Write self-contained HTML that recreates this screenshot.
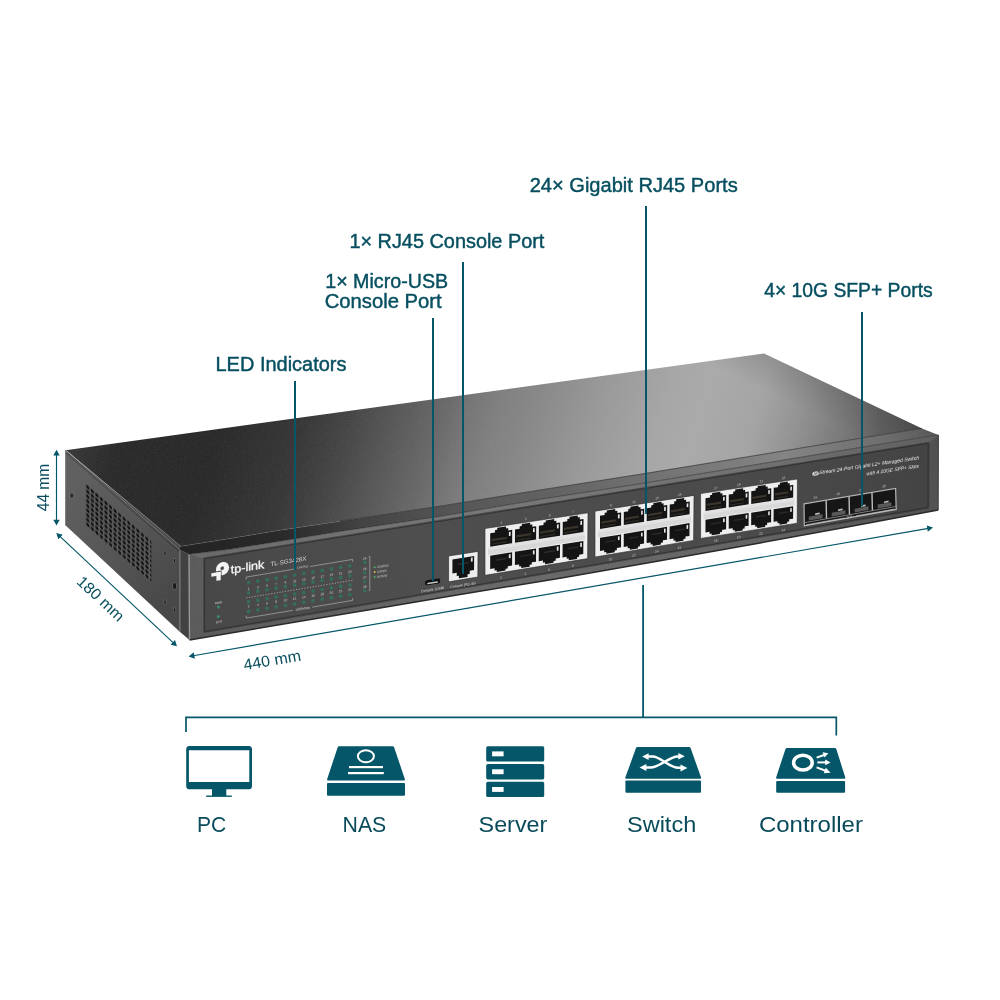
<!DOCTYPE html>
<html lang="en"><head><meta charset="utf-8"><title>TL-SG3428X ports</title>
<style>
html,body{margin:0;padding:0;background:#fff;}
body{width:1000px;height:1000px;overflow:hidden;font-family:"Liberation Sans",sans-serif;}
svg{display:block;will-change:transform;}
text{font-family:"Liberation Sans",sans-serif;}
.lb{fill:#074f60;font-size:19.4px;stroke:#074f60;stroke-width:.42px;}
.dm{fill:#0a4f5f;font-size:15.6px;}
.ic{fill:#0a4b5b;font-size:22px;}
</style></head><body>
<svg width="1000" height="1000" viewBox="0 0 1000 1000">
<defs>
<linearGradient id="gTop" gradientUnits="userSpaceOnUse" x1="66" y1="430" x2="900" y2="680"><stop offset="0.013" stop-color="#363636"/><stop offset="0.062" stop-color="#292929"/><stop offset="0.167" stop-color="#282828"/><stop offset="0.260" stop-color="#363636"/><stop offset="0.313" stop-color="#464646"/><stop offset="0.355" stop-color="#565656"/><stop offset="0.408" stop-color="#686868"/><stop offset="0.439" stop-color="#767676"/><stop offset="0.471" stop-color="#808080"/><stop offset="0.502" stop-color="#868686"/><stop offset="0.576" stop-color="#989898"/><stop offset="0.650" stop-color="#a6a6a6"/><stop offset="0.692" stop-color="#aaaaaa"/><stop offset="0.754" stop-color="#a4a4a4"/><stop offset="0.801" stop-color="#929292"/><stop offset="0.859" stop-color="#767676"/><stop offset="0.894" stop-color="#626262"/><stop offset="0.940" stop-color="#505050"/><stop offset="0.961" stop-color="#484848"/></linearGradient>
<linearGradient id="gTopShade" gradientUnits="userSpaceOnUse" x1="810" y1="450" x2="858" y2="350">
<stop offset="0" stop-color="#000" stop-opacity="0"/><stop offset=".3" stop-color="#000" stop-opacity="0"/><stop offset="1" stop-color="#000" stop-opacity=".28"/>
</linearGradient>
<linearGradient id="gLip" gradientUnits="userSpaceOnUse" x1="185" y1="550" x2="937" y2="435">
<stop offset="0" stop-color="#232323"/><stop offset=".13" stop-color="#2a2a2a"/><stop offset=".24" stop-color="#444"/><stop offset=".36" stop-color="#565656"/><stop offset=".5" stop-color="#646464"/><stop offset=".6" stop-color="#707070"/><stop offset=".8" stop-color="#848484"/><stop offset=".93" stop-color="#6e6e6e"/><stop offset="1" stop-color="#585858"/>
</linearGradient>
<linearGradient id="gSide" gradientUnits="userSpaceOnUse" x1="66" y1="490" x2="180" y2="590">
<stop offset="0" stop-color="#606060"/><stop offset=".45" stop-color="#575757"/><stop offset="1" stop-color="#484848"/>
</linearGradient>
<linearGradient id="gFront" gradientUnits="userSpaceOnUse" x1="188" y1="600" x2="937" y2="470">
<stop offset="0" stop-color="#585858"/><stop offset=".4" stop-color="#686868"/><stop offset=".75" stop-color="#626262"/><stop offset="1" stop-color="#4e4e4e"/>
</linearGradient>
<linearGradient id="gInset" gradientUnits="userSpaceOnUse" x1="205" y1="600" x2="928" y2="470">
<stop offset="0" stop-color="#484848"/><stop offset=".3" stop-color="#4e4e4e"/><stop offset=".7" stop-color="#4b4b4b"/><stop offset="1" stop-color="#444"/>
</linearGradient>
<linearGradient id="gFrame" x1="0" y1="0" x2="0" y2="1">
<stop offset="0" stop-color="#f4f4f4"/><stop offset=".42" stop-color="#e4e4e4"/><stop offset=".5" stop-color="#c4c4c4"/><stop offset=".58" stop-color="#ececec"/><stop offset="1" stop-color="#f6f6f6"/>
</linearGradient>
<pattern id="vent" patternUnits="userSpaceOnUse" width="4.55" height="4.7" patternTransform="matrix(1 .87 0 1 85.5 483)">
<rect width="4.55" height="4.7" fill="#585858"/><rect x=".8" y=".8" width="3" height="3.1" rx="1" fill="#141414"/>
</pattern>
<filter id="grain" x="0" y="0" width="100%" height="100%"><feTurbulence type="fractalNoise" baseFrequency="1.1" numOctaves="2" seed="3" result="n"/><feColorMatrix in="n" type="matrix" values="0 0 0 0 0.5  0 0 0 0 0.5  0 0 0 0 0.5  .9 .9 .9 0 -1.05"/><feComposite operator="in" in2="SourceGraphic"/></filter>
</defs>
<rect width="1000" height="1000" fill="#fff"/>

<g id="device">
<polygon points="65.7,450.2 179.5,549.5 179.5,631.5 65.7,525.5" fill="url(#gSide)" />
<polygon points="65.7,450.2 179.5,549.5 179.5,554 65.7,454.4" fill="#000" opacity=".13"/>
<polyline points="65.7,454.4 179.5,554" fill="none" stroke="#777" stroke-width="0.6" opacity=".6"/>
<polygon points="179.5,549.5 189,554.2 189.5,640 179.5,631.5" fill="#424242" />
<polygon points="179.5,549.5 180.7,550.5 180.7,632.5 179.5,631.5" fill="#6a6a6a" />
<polygon points="65.7,450.2 181,546.3 189,554.2 179.5,549.5" fill="#4e4e4e" />
<polygon points="65.7,450.2 764,353.5 922,428.4 880,435 760,454.8 640,474.3 540,490 440,506.2 340,521.2 280,530.2 230,538.5 181,546.3" fill="url(#gTop)" />
<polygon points="65.7,450.2 764,353.5 922,428.4 880,435 760,454.8 640,474.3 540,490 440,506.2 340,521.2 280,530.2 230,538.5 181,546.3" fill="url(#gTopShade)" />
<polygon points="65.7,450.2 764,353.5 922,428.4 880,435 760,454.8 640,474.3 540,490 440,506.2 340,521.2 280,530.2 230,538.5 181,546.3" fill="#fff" filter="url(#grain)" opacity=".09"/>
<polygon points="181,546.3 230,538.5 280,530.2 340,521.2 440,506.2 540,490 640,474.3 760,454.8 880,435 922,428.4 938.4,435 880,444.3 760,464 640,483.8 540,499.4 440,516.4 340,531.4 280,541.2 230,549.3 189,554.2 179.5,549.5" fill="url(#gLip)" />
<polyline points="181,546.3 230,538.5 280,530.2 340,521.2" fill="none" stroke="#666" stroke-width="0.8" opacity=".5"/>
<polyline points="340,521.2 440,506.2 540,490 640,474.3 760,454.8 880,435 922,428.4" fill="none" stroke="#303030" stroke-width="1" opacity=".75"/>
<linearGradient id="gEdge" gradientUnits="userSpaceOnUse" x1="66" y1="450" x2="183" y2="545"><stop offset="0" stop-color="#b8b8b8"/><stop offset=".5" stop-color="#8a8a8a"/><stop offset="1" stop-color="#5c5c5c"/></linearGradient>
<polyline points="65.7,450.2 181,546.3" fill="none" stroke="url(#gEdge)" stroke-width="0.9" />
<polyline points="65.7,450.2 65.7,525.5" fill="none" stroke="#6e6e6e" stroke-width="1" />
<polygon points="189,554.2 230,549.3 280,541.2 340,531.4 440,516.4 540,499.4 640,483.8 760,464 880,444.3 938.4,435 938.2,510 850,526.51 760,542.94 660,560.81 560,578.17 460,594.53 380,607.92 300,621.31 189.5,640" fill="url(#gFront)" />
<polygon points="189,554.2 230,549.3 280,541.2 340,531.4 440,516.4 540,499.4 640,483.8 760,464 880,444.3 938.4,435 938.2,510 850,526.51 760,542.94 660,560.81 560,578.17 460,594.53 380,607.92 300,621.31 189.5,640" fill="#fff" filter="url(#grain)" opacity=".10"/>
<polyline points="189,554.2 189.5,640" fill="none" stroke="#9a9a9a" stroke-width="1.3" />
<polyline points="189,554.2 230,549.3 280,541.2 340,531.4 440,516.4 540,499.4 640,483.8 760,464 880,444.3 938.4,435" fill="none" stroke="#2a2a2a" stroke-width="1" opacity=".7"/>
<polyline points="189.5,640 300,621.31 380,607.92 460,594.53 560,578.17 660,560.81 760,542.94 850,526.51 938.2,510" fill="none" stroke="#2a2a2a" stroke-width="1.5" />
<polygon points="189,554.2 230,549.3 280,541.2 340,531.4 440,516.4 540,499.4 640,483.8 760,464 880,444.3 938.4,435 928.2,443.4 204.6,558.8" fill="#fff" opacity=".09"/>
<polyline points="938.4,435 938.2,510" fill="none" stroke="#3a3a3a" stroke-width="1" />
<polygon points="204.6,558.8 928.2,443.4 928,507.4 204.6,631.6" fill="url(#gInset)" stroke="url(#gInset)" stroke-width="3" stroke-linejoin="round"/>
<polygon points="204.6,558.8 928.2,443.4 928,507.4 204.6,631.6" fill="none" stroke="#2c2c2c" stroke-width=".8" stroke-linejoin="round" transform="translate(0 0)"/>
<polygon points="85.5,483 151.3,540 151.3,582.5 85.5,525.5" fill="url(#vent)" />
<ellipse cx="71.8" cy="495.5" rx="2.6" ry="3.4" fill="#444" stroke="#7a7a7a" stroke-width=".8"/><ellipse cx="71.8" cy="495.5" rx="1" ry="1.4" fill="#2a2a2a"/>
<rect x="164" y="551" width="2" height="4.2" fill="#1d1d1d" stroke="#777" stroke-width=".5"/>
<rect x="173.5" y="558.5" width="2" height="4.2" fill="#1d1d1d" stroke="#777" stroke-width=".5"/>
<rect x="164" y="600" width="2" height="4.2" fill="#1d1d1d" stroke="#777" stroke-width=".5"/>
<rect x="173.5" y="608" width="2" height="4.2" fill="#1d1d1d" stroke="#777" stroke-width=".5"/>
<ellipse cx="174.6" cy="586" rx="2.2" ry="3.6" fill="#1a1a1a" stroke="#777" stroke-width=".7"/>
</g>
<g id="panel">
<g transform="matrix(1 -.16 0 1 222.5 568.65)"><circle r="6.6" fill="#f4f4f4"/><circle cx="-.3" cy="-.5" r="1.8" fill="#4a4a4a"/><rect x="-8.6" y="1.7" width="7.7" height="7" fill="#4a4a4a"/><rect x="-11.2" y="2.7" width="9.4" height="3.7" fill="#f4f4f4"/><rect x="-6.1" y="2.7" width="4.3" height="8.5" fill="#f4f4f4"/></g>
<text transform="matrix(1 -0.16 0 1 230.8 573.6)" font-size="11.4" fill="#f4f4f4" text-anchor="start" font-weight="normal" stroke="#f4f4f4" stroke-width=".35" textLength="33.4" lengthAdjust="spacingAndGlyphs">tp-link</text>
<text transform="matrix(1 -0.16 0 1 270.4 566.2)" font-size="6" fill="#d8d8d8" text-anchor="start" font-weight="normal" textLength="36" lengthAdjust="spacingAndGlyphs">TL-SG3428X</text>
<text transform="matrix(1 -0.16 0 1 218.4 604)" font-size="3.2" fill="#cfcfcf" text-anchor="middle" font-weight="normal" >PWR</text>
<text transform="matrix(1 -0.16 0 1 218.9 623)" font-size="3.2" fill="#cfcfcf" text-anchor="middle" font-weight="normal" >SYS</text>
<circle cx="218.3" cy="607" r="1.5" fill="#3b8a6a"/><circle cx="218.3" cy="616.4" r="1.5" fill="#3b8a6a"/>
<polyline points="246.2,579.56 246.2,577.1 295.19,568.96" fill="none" stroke="#bdbdbd" stroke-width="0.6" />
<polyline points="310.1,566.48 352.7,559.4 352.7,561.86" fill="none" stroke="#bdbdbd" stroke-width="0.6" />
<polyline points="246.2,615.64 246.2,618.1 293.06,610.31" fill="none" stroke="#bdbdbd" stroke-width="0.6" />
<polyline points="312.23,607.13 352.7,600.4 352.7,597.94" fill="none" stroke="#bdbdbd" stroke-width="0.6" />
<polyline points="246.2,597.93 352.7,580.23" fill="none" stroke="#bdbdbd" stroke-width="0.7" stroke-dasharray="1.3 1.5"/>
<text transform="matrix(1 -0.16 0 1 302.64 567.9)" font-size="3.2" fill="#d0d0d0" text-anchor="middle" font-weight="normal" >Link/Act</text>
<text transform="matrix(1 -0.16 0 1 302.64 609.72)" font-size="3.2" fill="#d0d0d0" text-anchor="middle" font-weight="normal" >1000Mbps</text>
<circle cx="248.6" cy="582.65" r="1.85" fill="#336f5a"/>
<circle cx="248.6" cy="592.69" r="1.85" fill="#336f5a"/>
<circle cx="248.6" cy="601.71" r="1.85" fill="#336f5a"/>
<circle cx="248.6" cy="611.43" r="1.85" fill="#336f5a"/>
<text transform="matrix(1 -0.16 0 1 248.6 589.82)" font-size="3.3" fill="#d0d0d0" text-anchor="middle" font-weight="normal" >1</text>
<text transform="matrix(1 -0.16 0 1 248.6 607.45)" font-size="3.3" fill="#d0d0d0" text-anchor="middle" font-weight="normal" >2</text>
<circle cx="257.8" cy="581.12" r="1.85" fill="#336f5a"/>
<circle cx="257.8" cy="591.16" r="1.85" fill="#336f5a"/>
<circle cx="257.8" cy="600.18" r="1.85" fill="#336f5a"/>
<circle cx="257.8" cy="609.9" r="1.85" fill="#336f5a"/>
<text transform="matrix(1 -0.16 0 1 257.8 588.29)" font-size="3.3" fill="#d0d0d0" text-anchor="middle" font-weight="normal" >3</text>
<text transform="matrix(1 -0.16 0 1 257.8 605.92)" font-size="3.3" fill="#d0d0d0" text-anchor="middle" font-weight="normal" >4</text>
<circle cx="267" cy="579.59" r="1.85" fill="#336f5a"/>
<circle cx="267" cy="589.63" r="1.85" fill="#336f5a"/>
<circle cx="267" cy="598.65" r="1.85" fill="#336f5a"/>
<circle cx="267" cy="608.37" r="1.85" fill="#336f5a"/>
<text transform="matrix(1 -0.16 0 1 267 586.76)" font-size="3.3" fill="#d0d0d0" text-anchor="middle" font-weight="normal" >5</text>
<text transform="matrix(1 -0.16 0 1 267 604.39)" font-size="3.3" fill="#d0d0d0" text-anchor="middle" font-weight="normal" >6</text>
<circle cx="276.2" cy="578.06" r="1.85" fill="#336f5a"/>
<circle cx="276.2" cy="588.1" r="1.85" fill="#336f5a"/>
<circle cx="276.2" cy="597.12" r="1.85" fill="#336f5a"/>
<circle cx="276.2" cy="606.84" r="1.85" fill="#336f5a"/>
<text transform="matrix(1 -0.16 0 1 276.2 585.23)" font-size="3.3" fill="#d0d0d0" text-anchor="middle" font-weight="normal" >7</text>
<text transform="matrix(1 -0.16 0 1 276.2 602.86)" font-size="3.3" fill="#d0d0d0" text-anchor="middle" font-weight="normal" >8</text>
<circle cx="285.4" cy="576.53" r="1.85" fill="#336f5a"/>
<circle cx="285.4" cy="586.57" r="1.85" fill="#336f5a"/>
<circle cx="285.4" cy="595.59" r="1.85" fill="#336f5a"/>
<circle cx="285.4" cy="605.31" r="1.85" fill="#336f5a"/>
<text transform="matrix(1 -0.16 0 1 285.4 583.7)" font-size="3.3" fill="#d0d0d0" text-anchor="middle" font-weight="normal" >9</text>
<text transform="matrix(1 -0.16 0 1 285.4 601.33)" font-size="3.3" fill="#d0d0d0" text-anchor="middle" font-weight="normal" >10</text>
<circle cx="294.6" cy="575" r="1.85" fill="#336f5a"/>
<circle cx="294.6" cy="585.05" r="1.85" fill="#336f5a"/>
<circle cx="294.6" cy="594.07" r="1.85" fill="#336f5a"/>
<circle cx="294.6" cy="603.78" r="1.85" fill="#336f5a"/>
<text transform="matrix(1 -0.16 0 1 294.6 582.18)" font-size="3.3" fill="#d0d0d0" text-anchor="middle" font-weight="normal" >11</text>
<text transform="matrix(1 -0.16 0 1 294.6 599.81)" font-size="3.3" fill="#d0d0d0" text-anchor="middle" font-weight="normal" >12</text>
<circle cx="303.81" cy="573.47" r="1.85" fill="#336f5a"/>
<circle cx="303.81" cy="583.52" r="1.85" fill="#336f5a"/>
<circle cx="303.81" cy="592.54" r="1.85" fill="#336f5a"/>
<circle cx="303.81" cy="602.25" r="1.85" fill="#336f5a"/>
<text transform="matrix(1 -0.16 0 1 303.81 580.65)" font-size="3.3" fill="#d0d0d0" text-anchor="middle" font-weight="normal" >13</text>
<text transform="matrix(1 -0.16 0 1 303.81 598.28)" font-size="3.3" fill="#d0d0d0" text-anchor="middle" font-weight="normal" >14</text>
<circle cx="313.01" cy="571.94" r="1.85" fill="#336f5a"/>
<circle cx="313.01" cy="581.99" r="1.85" fill="#336f5a"/>
<circle cx="313.01" cy="591.01" r="1.85" fill="#336f5a"/>
<circle cx="313.01" cy="600.72" r="1.85" fill="#336f5a"/>
<text transform="matrix(1 -0.16 0 1 313.01 579.12)" font-size="3.3" fill="#d0d0d0" text-anchor="middle" font-weight="normal" >15</text>
<text transform="matrix(1 -0.16 0 1 313.01 596.75)" font-size="3.3" fill="#d0d0d0" text-anchor="middle" font-weight="normal" >16</text>
<circle cx="322.21" cy="570.41" r="1.85" fill="#336f5a"/>
<circle cx="322.21" cy="580.46" r="1.85" fill="#336f5a"/>
<circle cx="322.21" cy="589.48" r="1.85" fill="#336f5a"/>
<circle cx="322.21" cy="599.19" r="1.85" fill="#336f5a"/>
<text transform="matrix(1 -0.16 0 1 322.21 577.59)" font-size="3.3" fill="#d0d0d0" text-anchor="middle" font-weight="normal" >17</text>
<text transform="matrix(1 -0.16 0 1 322.21 595.22)" font-size="3.3" fill="#d0d0d0" text-anchor="middle" font-weight="normal" >18</text>
<circle cx="331.41" cy="568.88" r="1.85" fill="#336f5a"/>
<circle cx="331.41" cy="578.93" r="1.85" fill="#336f5a"/>
<circle cx="331.41" cy="587.95" r="1.85" fill="#336f5a"/>
<circle cx="331.41" cy="597.67" r="1.85" fill="#336f5a"/>
<text transform="matrix(1 -0.16 0 1 331.41 576.06)" font-size="3.3" fill="#d0d0d0" text-anchor="middle" font-weight="normal" >19</text>
<text transform="matrix(1 -0.16 0 1 331.41 593.69)" font-size="3.3" fill="#d0d0d0" text-anchor="middle" font-weight="normal" >20</text>
<circle cx="340.61" cy="567.35" r="1.85" fill="#336f5a"/>
<circle cx="340.61" cy="577.4" r="1.85" fill="#336f5a"/>
<circle cx="340.61" cy="586.42" r="1.85" fill="#336f5a"/>
<circle cx="340.61" cy="596.14" r="1.85" fill="#336f5a"/>
<text transform="matrix(1 -0.16 0 1 340.61 574.53)" font-size="3.3" fill="#d0d0d0" text-anchor="middle" font-weight="normal" >21</text>
<text transform="matrix(1 -0.16 0 1 340.61 592.16)" font-size="3.3" fill="#d0d0d0" text-anchor="middle" font-weight="normal" >22</text>
<circle cx="349.81" cy="565.82" r="1.85" fill="#336f5a"/>
<circle cx="349.81" cy="575.87" r="1.85" fill="#336f5a"/>
<circle cx="349.81" cy="584.89" r="1.85" fill="#336f5a"/>
<circle cx="349.81" cy="594.61" r="1.85" fill="#336f5a"/>
<text transform="matrix(1 -0.16 0 1 349.81 573)" font-size="3.3" fill="#d0d0d0" text-anchor="middle" font-weight="normal" >23</text>
<text transform="matrix(1 -0.16 0 1 349.81 590.63)" font-size="3.3" fill="#d0d0d0" text-anchor="middle" font-weight="normal" >24</text>
<text transform="matrix(1 -0.16 0 1 364.8 559.6)" font-size="3.3" fill="#d0d0d0" text-anchor="middle" font-weight="normal" >25</text>
<circle cx="364.8" cy="562.4" r="1.8" fill="#336f5a"/>
<text transform="matrix(1 -0.16 0 1 364.8 570)" font-size="3.3" fill="#d0d0d0" text-anchor="middle" font-weight="normal" >26</text>
<circle cx="364.8" cy="572.8" r="1.8" fill="#336f5a"/>
<text transform="matrix(1 -0.16 0 1 364.8 578.8)" font-size="3.3" fill="#d0d0d0" text-anchor="middle" font-weight="normal" >27</text>
<circle cx="364.8" cy="581.6" r="1.8" fill="#336f5a"/>
<text transform="matrix(1 -0.16 0 1 364.8 588)" font-size="3.3" fill="#d0d0d0" text-anchor="middle" font-weight="normal" >28</text>
<circle cx="364.8" cy="590.8" r="1.8" fill="#336f5a"/>
<polyline points="368.8,556.6 369.8,556.4 369.8,590.4 368.8,590.6" fill="none" stroke="#bdbdbd" stroke-width="0.6" />
<circle cx="374.6" cy="567.2" r="1" fill="#4fae6a"/>
<text transform="matrix(1 -0.16 0 1 377 568.1)" font-size="3.3" fill="#d0d0d0" text-anchor="start" font-weight="normal" >10Gbps</text>
<circle cx="374.6" cy="572.1" r="1" fill="#e0b040"/>
<text transform="matrix(1 -0.16 0 1 377 573)" font-size="3.3" fill="#d0d0d0" text-anchor="start" font-weight="normal" >1Gbps</text>
<circle cx="374.6" cy="577" r="1" fill="#4fae6a"/>
<text transform="matrix(1 -0.16 0 1 377 577.9)" font-size="3.3" fill="#d0d0d0" text-anchor="start" font-weight="normal" >Activity</text>
<g transform="matrix(1 -.16 0 1 432.6 582)"><rect x="-7.6" y="-2.6" width="15.2" height="5" rx="2" fill="#101010"/><rect x="-5.4" y="0" width="10.8" height="1.5" rx=".7" fill="#c8c8c8"/></g>
<text transform="matrix(1 -0.16 0 1 432.6 590.6)" font-size="3.5" fill="#dcdcdc" text-anchor="middle" font-weight="normal" >Console (USB)</text>
<text transform="matrix(1 -0.16 0 1 463 586.2)" font-size="3.5" fill="#dcdcdc" text-anchor="middle" font-weight="normal" >Console (RJ-45)</text>
<polygon points="485,528.5 588,512.8 587.6,558.6 485,575.3" fill="#efefef" stroke="#2a2a2a" stroke-width=".6"/>
<polygon points="488.09,547.44 584.75,532.29 584.68,540.08 488.08,555.39" fill="#e2e2e2" />
<polygon points="488.08,550.48 584.72,535.27 584.69,539.62 488.08,554.92" fill="#d8d8d8" />
<polygon points="490.2,533.22 495.04,532.48 495.04,530.09 497.24,529.75 497.24,527.8 506.04,526.46 506.03,528.41 508.23,528.07 508.23,530.45 512.19,529.85 512.16,543.2 490.19,546.64" fill="#141414" />
<polygon points="491.51,539.06 506.68,536.71 506.68,538.98 491.51,541.34" fill="#3a342a" />
<polygon points="491.51,543.48 506.67,541.12 506.67,542.46 491.51,544.82" fill="#2e2a24" />
<polygon points="508.89,531.96 510.64,531.68 510.64,535.69 508.88,535.97" fill="#e8e8e8" />
<polygon points="490.19,555.76 512.14,552.28 512.11,565.54 507.72,566.25 507.72,568.42 505.53,568.78 505.52,570.56 496.76,571.99 496.76,570.2 494.57,570.56 494.57,568.37 490.18,569.08" fill="#141414" />
<polygon points="495.67,559.54 506.64,557.79 506.64,559.12 495.67,560.88" fill="#2c2c2c" />
<polygon points="508.84,554.39 510.6,554.11 510.59,558.09 508.83,558.37" fill="#e8e8e8" />
<text transform="matrix(1 -0.16 0 1 501.2 523.93)" font-size="3.3" fill="#c8c8c8" text-anchor="middle" font-weight="normal" >1</text>
<text transform="matrix(1 -0.16 0 1 501.13 578.74)" font-size="3.3" fill="#c8c8c8" text-anchor="middle" font-weight="normal" >2</text>
<polygon points="514.99,529.42 519.65,528.7 519.66,526.32 521.77,526 521.78,524.05 530.26,522.76 530.25,524.7 532.37,524.38 532.36,526.75 536.18,526.16 536.12,539.45 514.95,542.76" fill="#141414" />
<polygon points="516.24,535.22 530.86,532.96 530.85,535.22 516.24,537.49" fill="#3a342a" />
<polygon points="516.23,539.63 530.84,537.35 530.83,538.68 516.23,540.96" fill="#2e2a24" />
<polygon points="532.99,528.24 534.69,527.98 534.67,531.97 532.98,532.23" fill="#e8e8e8" />
<polygon points="514.93,551.83 536.08,548.48 536.02,561.67 531.8,562.36 531.79,564.52 529.68,564.87 529.67,566.64 521.22,568.01 521.23,566.23 519.12,566.58 519.12,564.4 514.9,565.09" fill="#141414" />
<polygon points="520.2,555.63 530.78,553.94 530.77,555.26 520.2,556.95" fill="#2c2c2c" />
<polygon points="532.9,550.57 534.59,550.3 534.58,554.26 532.89,554.53" fill="#e8e8e8" />
<text transform="matrix(1 -0.16 0 1 525.61 520.22)" font-size="3.3" fill="#c8c8c8" text-anchor="middle" font-weight="normal" >3</text>
<text transform="matrix(1 -0.16 0 1 525.42 574.75)" font-size="3.3" fill="#c8c8c8" text-anchor="middle" font-weight="normal" >4</text>
<polygon points="538.88,525.74 543.56,525.03 543.57,522.66 545.7,522.33 545.71,520.4 554.23,519.1 554.22,521.03 556.35,520.7 556.33,523.06 560.17,522.47 560.08,535.7 538.82,539.03" fill="#141414" />
<polygon points="540.13,531.52 554.81,529.25 554.79,531.5 540.11,533.78" fill="#3a342a" />
<polygon points="540.1,535.91 554.78,533.62 554.77,534.94 540.1,537.23" fill="#2e2a24" />
<polygon points="556.96,524.55 558.67,524.29 558.64,528.26 556.94,528.52" fill="#e8e8e8" />
<polygon points="538.77,548.05 560.02,544.68 559.94,557.81 555.7,558.5 555.68,560.65 553.56,560.99 553.55,562.76 545.06,564.14 545.07,562.37 542.95,562.71 542.96,560.55 538.71,561.24" fill="#141414" />
<polygon points="544.06,551.82 554.69,550.12 554.68,551.44 544.06,553.14" fill="#2c2c2c" />
<polygon points="556.83,546.76 558.53,546.49 558.5,550.43 556.8,550.7" fill="#e8e8e8" />
<text transform="matrix(1 -0.16 0 1 549.56 516.58)" font-size="3.3" fill="#c8c8c8" text-anchor="middle" font-weight="normal" >5</text>
<text transform="matrix(1 -0.16 0 1 549.27 570.84)" font-size="3.3" fill="#c8c8c8" text-anchor="middle" font-weight="normal" >6</text>
<polygon points="562.76,522.07 567.34,521.37 567.35,519.02 569.43,518.7 569.45,516.78 577.77,515.51 577.75,517.43 579.83,517.11 579.81,519.46 583.55,518.88 583.44,532.04 562.68,535.29" fill="#141414" />
<polygon points="563.97,527.83 578.31,525.61 578.29,527.84 563.96,530.07" fill="#3a342a" />
<polygon points="563.94,532.19 578.28,529.95 578.27,531.27 563.93,533.51" fill="#2e2a24" />
<polygon points="580.42,520.94 582.09,520.68 582.05,524.63 580.39,524.89" fill="#e8e8e8" />
<polygon points="562.62,544.27 583.37,540.98 583.26,554.04 579.12,554.71 579.1,556.86 577.03,557.19 577.01,558.95 568.72,560.29 568.74,558.54 566.66,558.87 566.68,556.72 562.53,557.39" fill="#141414" />
<polygon points="567.77,548.03 578.15,546.38 578.14,547.69 567.77,549.34" fill="#2c2c2c" />
<polygon points="580.24,543.04 581.9,542.78 581.87,546.7 580.21,546.96" fill="#e8e8e8" />
<text transform="matrix(1 -0.16 0 1 573.22 512.99)" font-size="3.3" fill="#c8c8c8" text-anchor="middle" font-weight="normal" >7</text>
<text transform="matrix(1 -0.16 0 1 572.81 566.97)" font-size="3.3" fill="#c8c8c8" text-anchor="middle" font-weight="normal" >8</text>
<polygon points="595,511.2 694,495.4 693.6,540.4 595,557" fill="#efefef" stroke="#2a2a2a" stroke-width=".6"/>
<polygon points="597.97,529.72 690.87,514.56 690.8,522.21 597.96,537.5" fill="#e2e2e2" />
<polygon points="597.96,532.7 690.84,517.49 690.81,521.76 597.96,537.05" fill="#d8d8d8" />
<polygon points="600,515.8 604.65,515.06 604.65,512.72 606.76,512.38 606.76,510.47 615.22,509.11 615.22,511.02 617.33,510.68 617.33,513.02 621.13,512.41 621.1,525.49 599.99,528.93" fill="#141414" />
<polygon points="601.26,521.51 615.84,519.15 615.83,521.38 601.26,523.74" fill="#3a342a" />
<polygon points="601.26,525.84 615.83,523.47 615.83,524.78 601.26,527.15" fill="#2e2a24" />
<polygon points="617.96,514.49 619.65,514.22 619.64,518.14 617.95,518.41" fill="#e8e8e8" />
<polygon points="599.99,537.86 621.08,534.38 621.05,547.37 616.84,548.08 616.83,550.21 614.73,550.57 614.72,552.31 606.3,553.73 606.3,551.98 604.19,552.33 604.19,550.19 599.98,550.9" fill="#141414" />
<polygon points="605.26,541.55 615.8,539.8 615.8,541.1 605.25,542.85" fill="#2c2c2c" />
<polygon points="617.91,536.46 619.6,536.18 619.59,540.08 617.91,540.36" fill="#e8e8e8" />
<text transform="matrix(1 -0.16 0 1 610.57 506.66)" font-size="3.3" fill="#c8c8c8" text-anchor="middle" font-weight="normal" >9</text>
<text transform="matrix(1 -0.16 0 1 610.5 560.33)" font-size="3.3" fill="#c8c8c8" text-anchor="middle" font-weight="normal" >10</text>
<polygon points="623.82,511.97 628.3,511.26 628.31,508.93 630.35,508.6 630.35,506.7 638.5,505.39 638.49,507.29 640.53,506.97 640.52,509.29 644.19,508.7 644.13,521.73 623.79,525.05" fill="#141414" />
<polygon points="625.03,517.66 639.07,515.39 639.06,517.61 625.02,519.89" fill="#3a342a" />
<polygon points="625.02,521.98 639.06,519.69 639.05,521 625.01,523.28" fill="#2e2a24" />
<polygon points="641.13,510.76 642.76,510.5 642.74,514.41 641.11,514.67" fill="#e8e8e8" />
<polygon points="623.77,533.94 644.09,530.59 644.04,543.53 639.97,544.21 639.97,546.33 637.94,546.67 637.93,548.41 629.81,549.77 629.82,548.03 627.79,548.37 627.79,546.25 623.73,546.92" fill="#141414" />
<polygon points="628.83,537.64 638.99,535.96 638.99,537.25 628.83,538.94" fill="#2c2c2c" />
<polygon points="641.04,532.64 642.66,532.38 642.65,536.26 641.02,536.53" fill="#e8e8e8" />
<text transform="matrix(1 -0.16 0 1 634.03 502.93)" font-size="3.3" fill="#c8c8c8" text-anchor="middle" font-weight="normal" >11</text>
<text transform="matrix(1 -0.16 0 1 633.85 556.37)" font-size="3.3" fill="#c8c8c8" text-anchor="middle" font-weight="normal" >12</text>
<polygon points="646.78,508.29 651.28,507.56 651.3,505.24 653.34,504.92 653.35,503.02 661.54,501.71 661.53,503.61 663.58,503.28 663.56,505.59 667.25,505 667.16,517.98 646.72,521.31" fill="#141414" />
<polygon points="647.98,513.95 662.09,511.67 662.08,513.87 647.97,516.16" fill="#3a342a" />
<polygon points="647.96,518.25 662.07,515.95 662.06,517.25 647.96,519.55" fill="#2e2a24" />
<polygon points="664.17,507.05 665.8,506.79 665.78,510.68 664.14,510.95" fill="#e8e8e8" />
<polygon points="646.68,530.16 667.1,526.79 667.02,539.68 662.94,540.36 662.93,542.48 660.89,542.82 660.88,544.55 652.72,545.92 652.73,544.19 650.69,544.53 650.7,542.41 646.62,543.09" fill="#141414" />
<polygon points="651.76,533.84 661.97,532.15 661.96,533.44 651.76,535.13" fill="#2c2c2c" />
<polygon points="664.03,528.85 665.66,528.58 665.64,532.44 664.01,532.71" fill="#e8e8e8" />
<text transform="matrix(1 -0.16 0 1 657.05 499.26)" font-size="3.3" fill="#c8c8c8" text-anchor="middle" font-weight="normal" >13</text>
<text transform="matrix(1 -0.16 0 1 656.76 552.49)" font-size="3.3" fill="#c8c8c8" text-anchor="middle" font-weight="normal" >14</text>
<polygon points="669.74,504.6 674.14,503.89 674.16,501.58 676.15,501.26 676.17,499.37 684.16,498.1 684.15,499.98 686.15,499.66 686.13,501.97 689.73,501.39 689.62,514.31 669.66,517.57" fill="#141414" />
<polygon points="670.9,510.24 684.68,508.01 684.67,510.21 670.89,512.45" fill="#3a342a" />
<polygon points="670.87,514.52 684.65,512.28 684.64,513.58 670.86,515.82" fill="#2e2a24" />
<polygon points="686.72,503.42 688.31,503.17 688.28,507.04 686.68,507.3" fill="#e8e8e8" />
<polygon points="669.6,526.38 689.54,523.1 689.43,535.93 685.45,536.6 685.43,538.7 683.44,539.04 683.43,540.76 675.46,542.1 675.47,540.37 673.48,540.71 673.5,538.6 669.51,539.26" fill="#141414" />
<polygon points="674.55,530.07 684.52,528.41 684.51,529.7 674.54,531.35" fill="#2c2c2c" />
<polygon points="686.54,525.13 688.13,524.87 688.1,528.72 686.51,528.98" fill="#e8e8e8" />
<text transform="matrix(1 -0.16 0 1 679.79 495.64)" font-size="3.3" fill="#c8c8c8" text-anchor="middle" font-weight="normal" >15</text>
<text transform="matrix(1 -0.16 0 1 679.39 548.65)" font-size="3.3" fill="#c8c8c8" text-anchor="middle" font-weight="normal" >16</text>
<polygon points="700.6,493.6 797.4,479 797.2,523.2 700.6,538.4" fill="#efefef" stroke="#2a2a2a" stroke-width=".6"/>
<polygon points="703.5,511.75 794.42,497.79 794.38,505.31 703.5,519.36" fill="#e2e2e2" />
<polygon points="703.5,514.66 794.4,500.66 794.38,504.86 703.5,518.91" fill="#d8d8d8" />
<polygon points="705.49,498.15 710.03,497.46 710.03,495.17 712.1,494.86 712.1,492.98 720.37,491.73 720.37,493.6 722.44,493.29 722.44,495.58 726.16,495.01 726.14,507.82 705.48,510.99" fill="#141414" />
<polygon points="706.72,503.74 720.98,501.57 720.98,503.74 706.72,505.92" fill="#3a342a" />
<polygon points="706.72,507.98 720.98,505.8 720.98,507.08 706.72,509.26" fill="#2e2a24" />
<polygon points="723.05,497.02 724.71,496.77 724.7,500.61 723.05,500.87" fill="#e8e8e8" />
<polygon points="705.48,519.72 726.13,516.53 726.12,529.25 721.99,529.9 721.99,531.99 719.92,532.31 719.92,534.02 711.67,535.32 711.67,533.61 709.6,533.93 709.61,531.84 705.48,532.48" fill="#141414" />
<polygon points="710.64,523.39 720.96,521.78 720.96,523.06 710.64,524.66" fill="#2c2c2c" />
<polygon points="723.03,518.54 724.68,518.28 724.68,522.1 723.03,522.35" fill="#e8e8e8" />
<text transform="matrix(1 -0.16 0 1 715.83 489.29)" font-size="3.3" fill="#c8c8c8" text-anchor="middle" font-weight="normal" >17</text>
<text transform="matrix(1 -0.16 0 1 715.79 541.82)" font-size="3.3" fill="#c8c8c8" text-anchor="middle" font-weight="normal" >18</text>
<polygon points="728.79,494.61 733.17,493.95 733.17,491.67 735.17,491.37 735.17,489.5 743.14,488.3 743.13,490.16 745.13,489.86 745.12,492.14 748.71,491.59 748.68,504.37 728.77,507.42" fill="#141414" />
<polygon points="729.97,500.19 743.72,498.1 743.71,500.27 729.97,502.37" fill="#3a342a" />
<polygon points="729.97,504.42 743.71,502.32 743.7,503.6 729.97,505.7" fill="#2e2a24" />
<polygon points="745.72,493.58 747.31,493.34 747.3,497.17 745.71,497.41" fill="#e8e8e8" />
<polygon points="728.76,516.12 748.66,513.04 748.63,525.73 744.65,526.35 744.65,528.43 742.66,528.74 742.66,530.45 734.7,531.7 734.71,529.99 732.72,530.3 732.72,528.22 728.74,528.84" fill="#141414" />
<polygon points="733.73,519.8 743.67,518.26 743.67,519.52 733.73,521.07" fill="#2c2c2c" />
<polygon points="745.67,515.03 747.26,514.78 747.25,518.59 745.66,518.83" fill="#e8e8e8" />
<text transform="matrix(1 -0.16 0 1 738.76 485.84)" font-size="3.3" fill="#c8c8c8" text-anchor="middle" font-weight="normal" >19</text>
<text transform="matrix(1 -0.16 0 1 738.67 538.2)" font-size="3.3" fill="#c8c8c8" text-anchor="middle" font-weight="normal" >20</text>
<polygon points="751.24,491.21 755.65,490.54 755.65,488.27 757.65,487.96 757.66,486.1 765.67,484.9 765.66,486.75 767.66,486.45 767.65,488.72 771.26,488.18 771.21,500.91 751.21,503.98" fill="#141414" />
<polygon points="752.43,496.77 766.24,494.67 766.23,496.83 752.42,498.94" fill="#3a342a" />
<polygon points="752.42,500.98 766.22,498.87 766.22,500.15 752.42,502.26" fill="#2e2a24" />
<polygon points="768.25,490.16 769.85,489.92 769.84,493.74 768.24,493.98" fill="#e8e8e8" />
<polygon points="751.19,512.65 771.19,509.56 771.14,522.2 767.15,522.83 767.14,524.9 765.14,525.22 765.14,526.91 757.15,528.17 757.15,526.47 755.15,526.78 755.16,524.7 751.16,525.33" fill="#141414" />
<polygon points="756.18,516.31 766.17,514.76 766.17,516.02 756.18,517.58" fill="#2c2c2c" />
<polygon points="768.18,511.54 769.78,511.29 769.77,515.09 768.17,515.33" fill="#e8e8e8" />
<text transform="matrix(1 -0.16 0 1 761.27 482.45)" font-size="3.3" fill="#c8c8c8" text-anchor="middle" font-weight="normal" >21</text>
<text transform="matrix(1 -0.16 0 1 761.12 534.65)" font-size="3.3" fill="#c8c8c8" text-anchor="middle" font-weight="normal" >22</text>
<polygon points="773.7,487.8 778,487.15 778.01,484.89 779.96,484.59 779.97,482.74 787.79,481.56 787.78,483.41 789.73,483.11 789.72,485.38 793.24,484.84 793.19,497.54 773.66,500.53" fill="#141414" />
<polygon points="774.85,493.35 788.33,491.3 788.32,493.46 774.84,495.52" fill="#3a342a" />
<polygon points="774.84,497.55 788.32,495.49 788.31,496.76 774.83,498.83" fill="#2e2a24" />
<polygon points="790.3,486.81 791.87,486.57 791.85,490.38 790.29,490.62" fill="#e8e8e8" />
<polygon points="773.63,509.18 793.15,506.16 793.1,518.76 789.19,519.37 789.18,521.44 787.23,521.75 787.23,523.44 779.42,524.67 779.43,522.97 777.48,523.28 777.49,521.21 773.58,521.82" fill="#141414" />
<polygon points="778.49,512.85 788.25,511.33 788.25,512.59 778.49,514.11" fill="#2c2c2c" />
<polygon points="790.22,508.13 791.78,507.88 791.76,511.67 790.2,511.91" fill="#e8e8e8" />
<text transform="matrix(1 -0.16 0 1 783.5 479.1)" font-size="3.3" fill="#c8c8c8" text-anchor="middle" font-weight="normal" >23</text>
<text transform="matrix(1 -0.16 0 1 783.3 531.14)" font-size="3.3" fill="#c8c8c8" text-anchor="middle" font-weight="normal" >24</text>
<polygon points="448.6,556 478,551.4 477.8,577 448.6,581.8" fill="#ededed" stroke="#2a2a2a" stroke-width=".6"/>
<polygon points="452.42,559.53 474.15,556.1 474.06,569.94 469.73,570.64 469.71,573.88 467.54,574.24 467.53,576.89 458.88,578.31 458.89,575.65 456.73,576 456.73,572.74 452.4,573.44" fill="#141414" />
<polygon points="457.84,563.53 468.69,561.81 468.68,563.19 457.84,564.92" fill="#2c2c2c" />
<polygon points="470.91,557.63 472.68,557.36 472.65,561.46 470.89,561.74" fill="#e0e0e0" />
<polygon points="804,503.8 895.6,488.4 896.2,509.4 804.3,525.8" fill="#161616" stroke="#b4b4b4" stroke-width="1.2"/>
<line x1="826.17" y1="500.51" x2="826.49" y2="518.79" stroke="#bcbcbc" stroke-width="1.4" />
<line x1="849.08" y1="496.65" x2="849.45" y2="514.72" stroke="#bcbcbc" stroke-width="1.4" />
<line x1="871.98" y1="492.8" x2="872.42" y2="510.66" stroke="#bcbcbc" stroke-width="1.4" />
<polygon points="808.78,516.64 822.54,514.24 822.61,518.16 808.83,520.59" fill="#5a5a5a" />
<polygon points="815.17,513.33 819.75,512.53 819.78,514.28 815.19,515.08" fill="#bbb" />
<text transform="matrix(1 -0.16 0 1 815.4 498.81)" font-size="3.3" fill="#c8c8c8" text-anchor="middle" font-weight="normal" >25</text>
<polygon points="831.72,512.63 845.49,510.23 845.57,514.11 831.79,516.54" fill="#5a5a5a" />
<polygon points="838.11,509.35 842.69,508.55 842.73,510.28 838.14,511.08" fill="#bbb" />
<text transform="matrix(1 -0.16 0 1 838.29 495)" font-size="3.3" fill="#c8c8c8" text-anchor="middle" font-weight="normal" >26</text>
<polygon points="854.67,508.63 868.44,506.23 868.53,510.06 854.75,512.49" fill="#5a5a5a" />
<polygon points="861.04,505.37 865.63,504.57 865.67,506.28 861.08,507.08" fill="#bbb" />
<text transform="matrix(1 -0.16 0 1 861.18 491.18)" font-size="3.3" fill="#c8c8c8" text-anchor="middle" font-weight="normal" >27</text>
<polygon points="877.61,504.62 891.38,502.22 891.49,506.01 877.71,508.44" fill="#5a5a5a" />
<polygon points="883.98,501.39 888.57,500.59 888.62,502.28 884.03,503.08" fill="#bbb" />
<text transform="matrix(1 -0.16 0 1 884.07 487.37)" font-size="3.3" fill="#c8c8c8" text-anchor="middle" font-weight="normal" >28</text>
<polyline points="804.26,522.72 896.12,506.46" fill="none" stroke="#8a8a8a" stroke-width="0.9" />
<polyline points="806.13,524.81 844.72,517.94" fill="none" stroke="#c8c8c8" stroke-width="0.7" />
<polyline points="855.75,515.97 894.34,509.1" fill="none" stroke="#c8c8c8" stroke-width="0.7" />
<text transform="matrix(1 -0.16 0 1 850.26 518.03)" font-size="3.2" fill="#d0d0d0" text-anchor="middle" font-weight="normal" >SFP+</text>
<g transform="matrix(1 -.155 0 1 812.6 475.8)"><ellipse cx="3.2" cy="-1.7" rx="3.6" ry="2" fill="#ececec"/></g>
<text transform="matrix(1 -0.15 0 1 919 459.3)" font-size="5" fill="#e6e6e6" text-anchor="end" font-weight="normal" font-style="italic" textLength="106.5" lengthAdjust="spacingAndGlyphs"><tspan fill="#444">Jet</tspan>Stream 24-Port Gigabit L2+ Managed Switch</text>
<text transform="matrix(1 -0.15 0 1 919 467.6)" font-size="5" fill="#e6e6e6" text-anchor="end" font-weight="normal" font-style="italic" textLength="52.5" lengthAdjust="spacingAndGlyphs">with 4 10GE SFP+ Slots</text>
</g>
<g id="callouts">
<line x1="295" y1="381" x2="295" y2="570" stroke="#045668" stroke-width="2" />
<line x1="433" y1="318" x2="433" y2="581" stroke="#045668" stroke-width="2" />
<line x1="463" y1="262" x2="463" y2="574" stroke="#045668" stroke-width="2" />
<line x1="646" y1="206" x2="646" y2="514" stroke="#045668" stroke-width="2" />
<line x1="862" y1="312" x2="862" y2="506.3" stroke="#045668" stroke-width="2" />
<text class="lb" x="215.5" y="370.7" textLength="131" lengthAdjust="spacingAndGlyphs">LED Indicators</text>
<text class="lb" x="349.4" y="247.8" textLength="195" lengthAdjust="spacingAndGlyphs">1× RJ45 Console Port</text>
<text class="lb" x="325.2" y="287.6" textLength="123" lengthAdjust="spacingAndGlyphs">1× Micro-USB</text>
<text class="lb" x="324.7" y="307.9" textLength="117" lengthAdjust="spacingAndGlyphs">Console Port</text>
<text class="lb" x="529.7" y="191.7" textLength="208" lengthAdjust="spacingAndGlyphs">24× Gigabit RJ45 Ports</text>
<text class="lb" x="764.2" y="297.3" textLength="168.5" lengthAdjust="spacingAndGlyphs">4× 10G SFP+ Ports</text>
</g>
<g id="dims">
<line x1="56.5" y1="454.34" x2="56.5" y2="520.86" stroke="#045668" stroke-width="1.15" />
<polygon points="56.5,449.7 53.3,455.5 59.7,455.5" fill="#045668" />
<polygon points="56.5,525.5 53.3,519.7 59.7,519.7" fill="#045668" />
<line x1="59.68" y1="536.18" x2="173.62" y2="643.12" stroke="#045668" stroke-width="1.15" />
<polygon points="56.3,533 58.34,539.3 62.72,534.64" fill="#045668" />
<polygon points="177,646.3 170.58,644.66 174.96,640" fill="#045668" />
<line x1="193.17" y1="655.71" x2="928.43" y2="528.39" stroke="#045668" stroke-width="1.15" />
<polygon points="188.6,656.5 194.86,658.66 193.77,652.36" fill="#045668" />
<polygon points="933,527.6 927.83,531.74 926.74,525.44" fill="#045668" />
<text class="dm" transform="translate(48.6 487.5) rotate(-90)" text-anchor="middle" textLength="47.5" lengthAdjust="spacingAndGlyphs">44 mm</text>
<text class="dm" transform="translate(97 602.5) rotate(43.2)" text-anchor="middle" textLength="58" lengthAdjust="spacingAndGlyphs">180 mm</text>
<text class="dm" transform="translate(273 665.3) rotate(-9.85)" text-anchor="middle" textLength="58" lengthAdjust="spacingAndGlyphs">440 mm</text>
</g>
<g id="bottom">
<line x1="643.1" y1="585" x2="643.1" y2="717.4" stroke="#045668" stroke-width="1.8" />
<polyline points="186,732 186,717.45 836.3,717.45 836.3,735.5" fill="none" stroke="#045668" stroke-width="1.7" />
<path fill="#045668" fill-rule="evenodd" d="M189.6 746h59a3.4 3.4 0 0 1 3.4 3.4v36.5a3.4 3.4 0 0 1-3.4 3.4h-59a3.4 3.4 0 0 1-3.4-3.4v-36.5a3.4 3.4 0 0 1 3.4-3.4z M188.9 750.2v31.7h60.4v-31.7z"/>
<rect x="212" y="789" width="14.3" height="7" fill="#045668"/><rect x="206.2" y="795.5" width="25.6" height="1.4" fill="#045668"/>
<path fill="#045668" d="M339.2 746.2h53.4a1.6 1.6 0 0 1 1.5 1l10.7 31.8a1.1 1.1 0 0 1-1 1.5h-75.6a1.1 1.1 0 0 1-1-1.5l10.5-31.8a1.6 1.6 0 0 1 1.5-1z"/>
<rect x="327" y="782.9" width="78" height="12.9" rx="1" fill="#045668"/>
<ellipse cx="365.9" cy="756.2" rx="8" ry="6" fill="none" stroke="#fff" stroke-width="2"/>
<rect x="349" y="766" width="34" height="2.2" fill="#fff"/><rect x="348" y="772" width="35.8" height="2.2" fill="#fff"/>
<rect x="486.2" y="746.2" width="58" height="15.3" rx="1.6" fill="#045668"/><rect x="492.1" y="751.4" width="11.5" height="4.9" fill="#fff"/>
<rect x="486.2" y="764.1" width="58" height="15.3" rx="1.6" fill="#045668"/><rect x="492.1" y="769.3" width="11.5" height="4.9" fill="#fff"/>
<rect x="486.2" y="781.8" width="58" height="15.3" rx="1.6" fill="#045668"/><rect x="492.1" y="787" width="11.5" height="4.9" fill="#fff"/>
<path fill="#045668" d="M637.6 747.1h51.4a1.8 1.8 0 0 1 1.6 1l10.4 29.2a1.1 1.1 0 0 1-1 1.5h-73.6a1.1 1.1 0 0 1-1-1.5l10.6-29.2a1.8 1.8 0 0 1 1.6-1z"/>
<rect x="625.4" y="780.6" width="75.6" height="12.2" rx="1" fill="#045668"/>
<g fill="none" stroke="#fff" stroke-width="2.5"><path d="M647 756.6H652.5C661 756.6 669 767.8 678.5 767.8H682"/><path d="M645 767.6H650.5C659.5 767.6 669.5 756.4 677.5 756.4H680"/></g>
<g fill="#fff"><polygon points="642.1,756.6 648.6,753.3 648.6,759.9"/><polygon points="684.8,756.3 678.3,753 678.3,759.6"/><polygon points="639.5,767.6 646.4,764.1 646.4,771.1"/><polygon points="687.4,767.9 680.5,764.4 680.5,771.4"/></g>
<path fill="#045668" d="M787 748h47.8a1.6 1.6 0 0 1 1.5 1l8.9 28.2a1.1 1.1 0 0 1-1 1.5h-67a1.1 1.1 0 0 1-1-1.5l9.3-28.2a1.6 1.6 0 0 1 1.5-1z"/>
<rect x="776.2" y="781" width="68.9" height="11.8" rx="1" fill="#045668"/>
<ellipse cx="802.9" cy="762.7" rx="9.3" ry="7.4" fill="none" stroke="#fff" stroke-width="3.5"/>
<g stroke="#fff" stroke-width="2" fill="#fff"><line x1="816.6" y1="757.6" x2="824" y2="755"/><line x1="817.4" y1="762.4" x2="826" y2="762.4"/><line x1="816.6" y1="767.4" x2="825.5" y2="770.8"/><polygon stroke="none" points="828.4,753.2 822.6,752.2 824.4,757.6"/><polygon stroke="none" points="830.6,762.4 825.2,759.6 825.2,765.2"/><polygon stroke="none" points="830.6,772.8 823.8,773.2 825.8,767.8"/></g>
<text class="ic" x="197" y="832.2" textLength="29.3" lengthAdjust="spacingAndGlyphs">PC</text>
<text class="ic" x="342.5" y="832.2" textLength="43.8" lengthAdjust="spacingAndGlyphs">NAS</text>
<text class="ic" x="478.6" y="832.2" textLength="68.7" lengthAdjust="spacingAndGlyphs">Server</text>
<text class="ic" x="627" y="832.2" textLength="69.2" lengthAdjust="spacingAndGlyphs">Switch</text>
<text class="ic" x="758.9" y="832.2" textLength="104" lengthAdjust="spacingAndGlyphs">Controller</text>
</g>
</svg></body></html>
